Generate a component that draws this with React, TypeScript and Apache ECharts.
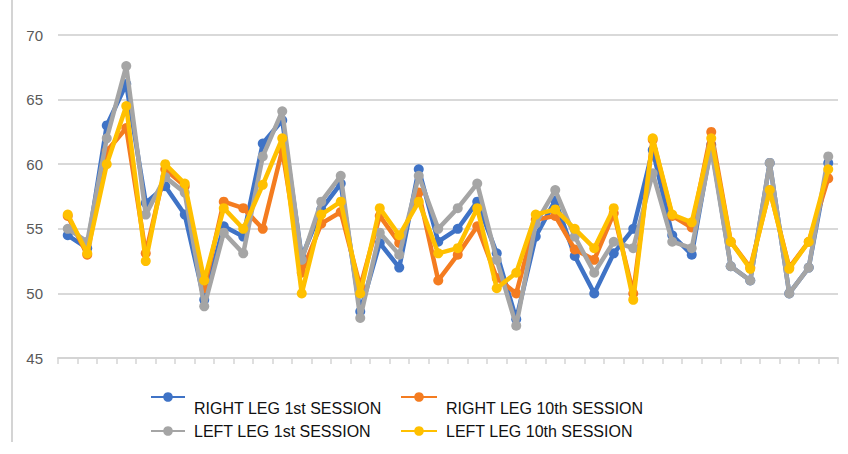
import React, { useEffect, useRef } from "react";
import * as echarts from "echarts";

const categories: string[] = Array.from({ length: 40 }, (_, i) => String(i + 1));

const rightLeg1st = [54.5, 53.5, 63, 66.2, 57, 58.3, 56.1, 49.5, 55.2, 54.4, 61.6, 63.4, 52.8, 56.5, 58.5, 48.6, 53.9, 52, 59.6, 54, 55, 57.1, 53.1, 48, 54.4, 57.2, 52.9, 50, 53.1, 55, 61.1, 54.5, 53, 61.5, 52.1, 51, 60.1, 50, 52, 60.1];
const rightLeg10th = [56, 53, 61, 62.8, 53.1, 59.6, 58.3, 50.4, 57.1, 56.6, 55, 61.1, 51.6, 55.4, 56.3, 50.5, 56, 53.9, 57.8, 51, 53, 55.2, 51.2, 50, 55.7, 56, 53.4, 52.6, 56.2, 50, 61.9, 56, 55.1, 62.5, 54, 52, 58, 52, 54, 58.9];
const leftLeg1st = [55, 54, 62, 67.6, 56.1, 59, 57.8, 49, 54.7, 53.1, 60.6, 64.1, 52.6, 57.1, 59.1, 48.1, 54.7, 53, 59.1, 55, 56.6, 58.5, 52.6, 47.5, 55.4, 58, 54.4, 51.6, 54, 53.5, 59.3, 54, 53.5, 61.2, 52.1, 51, 60.1, 50, 52, 60.6];
const leftLeg10th = [56.1, 53.1, 60, 64.5, 52.5, 60, 58.5, 51, 56.6, 55, 58.4, 62, 50, 56.1, 57.1, 50, 56.6, 54.5, 57.1, 53.1, 53.5, 56.6, 50.4, 51.6, 56.1, 56.5, 55, 53.5, 56.6, 49.5, 62, 56.1, 55.5, 62, 54, 51.9, 58, 51.9, 54, 59.6];

const seriesNames = [
  "RIGHT LEG 1st SESSION",
  "RIGHT LEG 10th SESSION",
  "LEFT LEG 1st SESSION",
  "LEFT LEG 10th SESSION",
];
const seriesColors = ["#3f73c6", "#f47c20", "#a5a5a5", "#ffc000"];
const seriesData = [rightLeg1st, rightLeg10th, leftLeg1st, leftLeg10th];

export default function App() {
  const ref = useRef<HTMLDivElement>(null);
  useEffect(() => {
    if (!ref.current) return;
    const chart = echarts.init(ref.current, undefined, { renderer: "svg" });
    const font = "Liberation Sans, Arial, sans-serif";
    const legendPos = [
      { left: 150, top: 375, w: 34, pad: [0, 0, 0, 4], row1: true },
      { left: 400, top: 375, w: 36, pad: [0, 0, 0, 4], row1: true },
      { left: 150, top: 422, w: 34, pad: [0, 0, 0, 4], row1: false },
      { left: 400, top: 422, w: 36, pad: [0, 0, 0, 4], row1: false },
    ];
    chart.setOption({
      animation: false,
      grid: { left: 58, right: 10, top: 35, bottom: 96, containLabel: false },
      legend: seriesNames.map((n, i) => ({
        data: [n],
        left: legendPos[i].left,
        top: legendPos[i].top,
        padding: 0,
        orient: "horizontal",
        itemWidth: legendPos[i].w,
        itemHeight: 12,
        itemGap: 0,
        selectedMode: false,
        formatter: legendPos[i].row1 ? "\n{name}" : "{name}",
        textStyle: {
          fontFamily: font,
          fontSize: 16,
          color: "#111",
          lineHeight: legendPos[i].row1 ? 22 : 18,
          padding: legendPos[i].pad,
        },
      })),
      xAxis: {
        type: "category",
        data: categories,
        boundaryGap: true,
        axisLine: { lineStyle: { color: "#d4d4d4", width: 2 } },
        axisTick: { show: true, length: 6, lineStyle: { color: "#d4d4d4", width: 1.5 } },
        axisLabel: { show: false },
        splitLine: { show: false },
      },
      yAxis: {
        type: "value",
        min: 45,
        max: 70,
        interval: 5,
        axisLine: { show: false },
        axisTick: { show: false },
        axisLabel: {
          margin: 15,
          color: "#595959",
          fontSize: 15,
          fontFamily: font,
        },
        splitLine: { lineStyle: { color: "#d9d9d9", width: 2 } },
      },
      graphic: [
        {
          type: "line",
          shape: { x1: 12, y1: 0, x2: 12, y2: 442 },
          style: { stroke: "#d4d4d4", lineWidth: 2 },
        },
      ],
      series: seriesNames.map((n, i) => ({
        name: n,
        type: "line",
        data: seriesData[i],
        symbol: "circle",
        symbolSize: 10,
        showSymbol: true,
        itemStyle: { color: seriesColors[i] },
        lineStyle: { color: seriesColors[i], width: 4.5 },
        z: 2 + i,
      })),
    });
    return () => chart.dispose();
  }, []);
  return (
    <div
      ref={ref}
      style={{ position: "fixed", left: 0, top: 0, width: 848, height: 454, background: "#fff" }}
    />
  );
}
